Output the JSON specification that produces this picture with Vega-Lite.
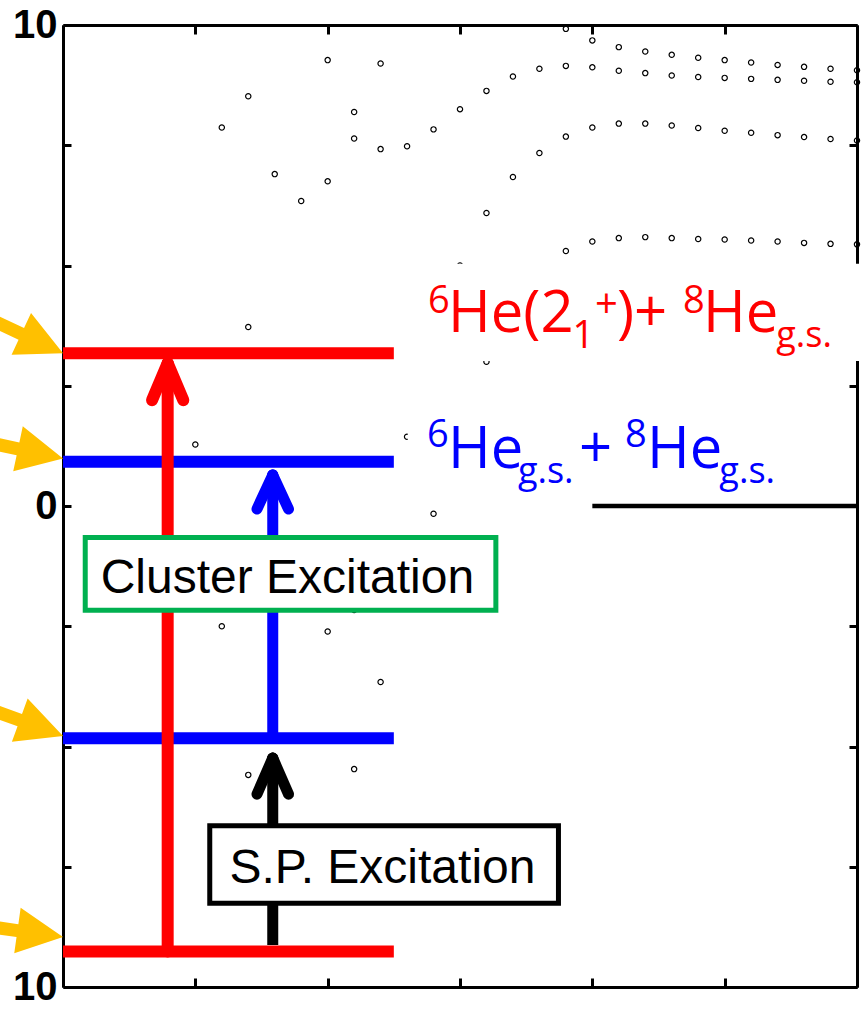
{
  "$schema": "https://vega.github.io/schema/vega-lite/v6.json",
  "width": 794,
  "height": 962,
  "autosize": {"type": "none"},
  "padding": {"left": 63, "top": 25, "right": 8, "bottom": 49},
  "background": "white",
  "config": {
    "view": {"stroke": null},
    "axis": {"domainColor": "black", "domainWidth": 3, "tickColor": "black", "tickWidth": 3, "grid": false, "title": null, "zindex": 0, "labelOverlap": false, "labelFlush": false}
  },
  "resolve": {"axis": {"x": "independent", "y": "independent"}},
  "datasets": {
    "one": [{}],
    "dots": [
      {"x": 1.2, "E": 7.87}, {"x": 1.4, "E": 8.52}, {"x": 1.6, "E": 6.9}, {"x": 1.8, "E": 6.34},
      {"x": 2.0, "E": 9.27}, {"x": 2.0, "E": 6.75}, {"x": 2.2, "E": 8.19}, {"x": 2.2, "E": 7.64},
      {"x": 2.4, "E": 9.2}, {"x": 2.4, "E": 7.42}, {"x": 2.6, "E": 7.48}, {"x": 2.8, "E": 7.83},
      {"x": 3.0, "E": 8.25}, {"x": 3.2, "E": 8.63}, {"x": 3.4, "E": 8.93}, {"x": 3.6, "E": 9.09},
      {"x": 3.8, "E": 9.15}, {"x": 4.0, "E": 9.12}, {"x": 4.2, "E": 9.05}, {"x": 4.4, "E": 9.0},
      {"x": 4.6, "E": 8.95}, {"x": 4.8, "E": 8.92}, {"x": 5.0, "E": 8.9}, {"x": 5.2, "E": 8.88},
      {"x": 5.4, "E": 8.86}, {"x": 5.6, "E": 8.84}, {"x": 5.8, "E": 8.82}, {"x": 6.0, "E": 8.81},
      {"x": 3.8, "E": 9.92}, {"x": 4.0, "E": 9.68}, {"x": 4.2, "E": 9.54}, {"x": 4.4, "E": 9.45},
      {"x": 4.6, "E": 9.38}, {"x": 4.8, "E": 9.32}, {"x": 5.0, "E": 9.27}, {"x": 5.2, "E": 9.22},
      {"x": 5.4, "E": 9.17}, {"x": 5.6, "E": 9.13}, {"x": 5.8, "E": 9.09}, {"x": 6.0, "E": 9.06},
      {"x": 3.2, "E": 6.09}, {"x": 3.4, "E": 6.84}, {"x": 3.6, "E": 7.34}, {"x": 3.8, "E": 7.68},
      {"x": 4.0, "E": 7.87}, {"x": 4.2, "E": 7.95}, {"x": 4.4, "E": 7.95}, {"x": 4.6, "E": 7.91},
      {"x": 4.8, "E": 7.86}, {"x": 5.0, "E": 7.8}, {"x": 5.2, "E": 7.76}, {"x": 5.4, "E": 7.71},
      {"x": 5.6, "E": 7.67}, {"x": 5.8, "E": 7.63}, {"x": 6.0, "E": 7.6},
      {"x": 3.8, "E": 5.3}, {"x": 4.0, "E": 5.5}, {"x": 4.2, "E": 5.57}, {"x": 4.4, "E": 5.59},
      {"x": 4.6, "E": 5.57}, {"x": 4.8, "E": 5.55}, {"x": 5.0, "E": 5.54}, {"x": 5.2, "E": 5.52},
      {"x": 5.4, "E": 5.5}, {"x": 5.6, "E": 5.47}, {"x": 5.8, "E": 5.45}, {"x": 6.0, "E": 5.44},
      {"x": 1.4, "E": 3.72}, {"x": 1.0, "E": 1.28}, {"x": 2.6, "E": 1.44}, {"x": 2.8, "E": -0.16},
      {"x": 3.2, "E": 3.0}, {"x": 3.0, "E": 5.0}, {"x": 1.2, "E": -2.5}, {"x": 2.0, "E": -2.61},
      {"x": 2.4, "E": -3.66}, {"x": 1.4, "E": -5.59}, {"x": 2.2, "E": -5.47}, {"x": 2.2, "E": -2.16}
    ]
  },
  "layer": [
    {
      "data": {"name": "dots"},
      "mark": {"type": "point", "filled": false, "size": 28, "strokeWidth": 1.2, "color": "black", "opacity": 1},
      "encoding": {
        "x": {"field": "x", "type": "quantitative", "scale": {"domain": [0, 6], "nice": false, "zero": false},
              "axis": {"orient": "bottom", "values": [0, 1, 2, 3, 4, 5, 6], "labels": false, "tickSize": -9}},
        "y": {"field": "E", "type": "quantitative", "scale": {"domain": [-10, 10], "nice": false, "zero": false},
              "axis": {"orient": "left", "values": [-10, -7.5, -5, -2.5, 0, 2.5, 5, 7.5, 10], "tickSize": -8,
                       "labelExpr": "datum.value == 0 ? '0' : (abs(datum.value) == 10 ? '10' : '')",
                       "labelFont": "Liberation Sans", "labelFontSize": 40, "labelFontWeight": "bold", "labelColor": "black", "labelPadding": 14}}
      }
    },
    {
      "data": {"name": "dots"},
      "mark": {"type": "point", "opacity": 0},
      "encoding": {
        "x": {"field": "x", "type": "quantitative", "axis": {"orient": "top", "values": [0, 1, 2, 3, 4, 5, 6], "labels": false, "tickSize": -9}},
        "y": {"field": "E", "type": "quantitative", "axis": {"orient": "right", "values": [-10, -7.5, -5, -2.5, 0, 2.5, 5, 7.5, 10], "labels": false, "tickSize": -8}}
      }
    },
    {"data": {"name": "one"}, "mark": {"type": "rect", "fill": "white", "stroke": null},
     "encoding": {"x": {"datum": 2.85, "axis": null}, "x2": {"datum": 6.03}, "y": {"datum": 5.035, "axis": null}, "y2": {"datum": 3.015}}},
    {"data": {"name": "one"}, "mark": {"type": "rect", "fill": "white", "stroke": null},
     "encoding": {"x": {"datum": 2.605, "axis": null}, "x2": {"datum": 5.5}, "y": {"datum": 1.9, "axis": null}, "y2": {"datum": 0.25}}},
    {"data": {"name": "one"}, "mark": {"type": "rule", "color": "black", "strokeWidth": 4.5},
     "encoding": {"x": {"datum": 4.0, "axis": null}, "x2": {"datum": 6.0}, "y": {"datum": 0, "axis": null}}},
    {"data": {"name": "one"}, "mark": {"type": "rule", "color": "#FF0000", "strokeWidth": 12, "strokeCap": "butt"},
     "encoding": {"x": {"datum": 0, "axis": null}, "x2": {"datum": 2.5}, "y": {"datum": 3.175, "axis": null}}},
    {"data": {"name": "one"}, "mark": {"type": "rule", "color": "#0000FF", "strokeWidth": 12, "strokeCap": "butt"},
     "encoding": {"x": {"datum": 0, "axis": null}, "x2": {"datum": 2.5}, "y": {"datum": 0.919, "axis": null}}},
    {"data": {"name": "one"}, "mark": {"type": "rule", "color": "#0000FF", "strokeWidth": 12, "strokeCap": "butt"},
     "encoding": {"x": {"datum": 0, "axis": null}, "x2": {"datum": 2.5}, "y": {"datum": -4.83, "axis": null}}},
    {"data": {"name": "one"}, "mark": {"type": "rule", "color": "#FF0000", "strokeWidth": 12, "strokeCap": "butt"},
     "encoding": {"x": {"datum": 0, "axis": null}, "x2": {"datum": 2.5}, "y": {"datum": -9.26, "axis": null}}},
    {"data": {"name": "one"}, "mark": {"type": "rule", "color": "#FF0000", "strokeWidth": 12, "strokeCap": "round"},
     "encoding": {"x": {"datum": 0.791, "axis": null}, "y": {"datum": -9.26, "axis": null}, "y2": {"datum": 2.97}}},
    {"data": {"name": "one"}, "mark": {"type": "rule", "color": "#FF0000", "strokeWidth": 12, "strokeCap": "round"},
     "encoding": {"x": {"datum": 0.673, "axis": null}, "x2": {"datum": 0.791}, "y": {"datum": 2.2, "axis": null}, "y2": {"datum": 2.97}}},
    {"data": {"name": "one"}, "mark": {"type": "rule", "color": "#FF0000", "strokeWidth": 12, "strokeCap": "round"},
     "encoding": {"x": {"datum": 0.909, "axis": null}, "x2": {"datum": 0.791}, "y": {"datum": 2.2, "axis": null}, "y2": {"datum": 2.97}}},
    {"data": {"name": "one"}, "mark": {"type": "rule", "color": "#0000FF", "strokeWidth": 11, "strokeCap": "round"},
     "encoding": {"x": {"datum": 1.585, "axis": null}, "y": {"datum": -4.83, "axis": null}, "y2": {"datum": 0.645}}},
    {"data": {"name": "one"}, "mark": {"type": "rule", "color": "#0000FF", "strokeWidth": 11, "strokeCap": "round"},
     "encoding": {"x": {"datum": 1.466, "axis": null}, "x2": {"datum": 1.585}, "y": {"datum": -0.062, "axis": null}, "y2": {"datum": 0.645}}},
    {"data": {"name": "one"}, "mark": {"type": "rule", "color": "#0000FF", "strokeWidth": 11, "strokeCap": "round"},
     "encoding": {"x": {"datum": 1.704, "axis": null}, "x2": {"datum": 1.585}, "y": {"datum": -0.062, "axis": null}, "y2": {"datum": 0.645}}},
    {"data": {"name": "one"}, "mark": {"type": "rule", "color": "black", "strokeWidth": 11, "strokeCap": "butt"},
     "encoding": {"x": {"datum": 1.585, "axis": null}, "y": {"datum": -9.127, "axis": null}, "y2": {"datum": -5.3}}},
    {"data": {"name": "one"}, "mark": {"type": "rule", "color": "black", "strokeWidth": 11, "strokeCap": "round"},
     "encoding": {"x": {"datum": 1.585, "axis": null}, "y": {"datum": -5.6, "axis": null}, "y2": {"datum": -5.24}}},
    {"data": {"name": "one"}, "mark": {"type": "rule", "color": "black", "strokeWidth": 11, "strokeCap": "round"},
     "encoding": {"x": {"datum": 1.466, "axis": null}, "x2": {"datum": 1.585}, "y": {"datum": -5.99, "axis": null}, "y2": {"datum": -5.24}}},
    {"data": {"name": "one"}, "mark": {"type": "rule", "color": "black", "strokeWidth": 11, "strokeCap": "round"},
     "encoding": {"x": {"datum": 1.704, "axis": null}, "x2": {"datum": 1.585}, "y": {"datum": -5.99, "axis": null}, "y2": {"datum": -5.24}}},
    {"data": {"name": "one"}, "mark": {"type": "rect", "fill": "white", "stroke": "#00B050", "strokeWidth": 5},
     "encoding": {"x": {"datum": 0.168, "axis": null}, "x2": {"datum": 3.271}, "y": {"datum": -0.655, "axis": null}, "y2": {"datum": -2.166}}},
    {"data": {"name": "one"}, "mark": {"type": "rect", "fill": "white", "stroke": "black", "strokeWidth": 5},
     "encoding": {"x": {"datum": 1.109, "axis": null}, "x2": {"datum": 3.744}, "y": {"datum": -6.649, "axis": null}, "y2": {"datum": -8.258}}},
    {"data": {"name": "one"}, "mark": {"type": "text", "text": "Cluster Excitation", "font": "Liberation Sans", "fontSize": 48, "color": "black", "align": "center", "baseline": "alphabetic"},
     "encoding": {"x": {"datum": 1.696, "axis": null}, "y": {"datum": -1.8, "axis": null}}},
    {"data": {"name": "one"}, "mark": {"type": "text", "text": "S.P. Excitation", "font": "Liberation Sans", "fontSize": 48, "color": "black", "align": "center", "baseline": "alphabetic"},
     "encoding": {"x": {"datum": 2.414, "axis": null}, "y": {"datum": -7.844, "axis": null}}},
    {"data": {"name": "one"}, "mark": {"type": "text", "text": "6", "font": "Open Sans", "fontSize": 38, "color": "#FF0000", "align": "left", "baseline": "alphabetic"},
     "encoding": {"x": {"datum": 2.758, "axis": null}, "y": {"datum": 4.012, "axis": null}}},
    {"data": {"name": "one"}, "mark": {"type": "text", "text": "He(2", "font": "Open Sans", "fontSize": 58, "color": "#FF0000", "align": "left", "baseline": "alphabetic"},
     "encoding": {"x": {"datum": 2.909, "axis": null}, "y": {"datum": 3.617, "axis": null}}},
    {"data": {"name": "one"}, "mark": {"type": "text", "text": "1", "font": "Open Sans", "fontSize": 38, "color": "#FF0000", "align": "left", "baseline": "alphabetic"},
     "encoding": {"x": {"datum": 3.85, "axis": null}, "y": {"datum": 3.285, "axis": null}}},
    {"data": {"name": "one"}, "mark": {"type": "text", "text": "+", "font": "Open Sans", "fontSize": 40, "color": "#FF0000", "align": "left", "baseline": "alphabetic"},
     "encoding": {"x": {"datum": 4.02, "axis": null}, "y": {"datum": 3.91, "axis": null}}},
    {"data": {"name": "one"}, "mark": {"type": "text", "text": ")+", "font": "Open Sans", "fontSize": 58, "color": "#FF0000", "align": "left", "baseline": "alphabetic"},
     "encoding": {"x": {"datum": 4.186, "axis": null}, "y": {"datum": 3.617, "axis": null}}},
    {"data": {"name": "one"}, "mark": {"type": "text", "text": "8", "font": "Open Sans", "fontSize": 38, "color": "#FF0000", "align": "left", "baseline": "alphabetic"},
     "encoding": {"x": {"datum": 4.685, "axis": null}, "y": {"datum": 4.012, "axis": null}}},
    {"data": {"name": "one"}, "mark": {"type": "text", "text": "He", "font": "Open Sans", "fontSize": 58, "color": "#FF0000", "align": "left", "baseline": "alphabetic"},
     "encoding": {"x": {"datum": 4.836, "axis": null}, "y": {"datum": 3.617, "axis": null}}},
    {"data": {"name": "one"}, "mark": {"type": "text", "text": "g.s.", "font": "Open Sans", "fontSize": 36, "color": "#FF0000", "align": "left", "baseline": "alphabetic"},
     "encoding": {"x": {"datum": 5.39, "axis": null}, "y": {"datum": 3.306, "axis": null}}},
    {"data": {"name": "one"}, "mark": {"type": "text", "text": "6", "font": "Open Sans", "fontSize": 38, "color": "#0000FF", "align": "left", "baseline": "alphabetic"},
     "encoding": {"x": {"datum": 2.751, "axis": null}, "y": {"datum": 1.227, "axis": null}}},
    {"data": {"name": "one"}, "mark": {"type": "text", "text": "He", "font": "Open Sans", "fontSize": 58, "color": "#0000FF", "align": "left", "baseline": "alphabetic"},
     "encoding": {"x": {"datum": 2.909, "axis": null}, "y": {"datum": 0.79, "axis": null}}},
    {"data": {"name": "one"}, "mark": {"type": "text", "text": "g.s.", "font": "Open Sans", "fontSize": 36, "color": "#0000FF", "align": "left", "baseline": "alphabetic"},
     "encoding": {"x": {"datum": 3.438, "axis": null}, "y": {"datum": 0.478, "axis": null}}},
    {"data": {"name": "one"}, "mark": {"type": "text", "text": "+", "font": "Open Sans", "fontSize": 58, "color": "#0000FF", "align": "left", "baseline": "alphabetic"},
     "encoding": {"x": {"datum": 3.899, "axis": null}, "y": {"datum": 0.79, "axis": null}}},
    {"data": {"name": "one"}, "mark": {"type": "text", "text": "8", "font": "Open Sans", "fontSize": 38, "color": "#0000FF", "align": "left", "baseline": "alphabetic"},
     "encoding": {"x": {"datum": 4.247, "axis": null}, "y": {"datum": 1.227, "axis": null}}},
    {"data": {"name": "one"}, "mark": {"type": "text", "text": "He", "font": "Open Sans", "fontSize": 58, "color": "#0000FF", "align": "left", "baseline": "alphabetic"},
     "encoding": {"x": {"datum": 4.413, "axis": null}, "y": {"datum": 0.79, "axis": null}}},
    {"data": {"name": "one"}, "mark": {"type": "text", "text": "g.s.", "font": "Open Sans", "fontSize": 36, "color": "#0000FF", "align": "left", "baseline": "alphabetic"},
     "encoding": {"x": {"datum": 4.96, "axis": null}, "y": {"datum": 0.478, "axis": null}}},
    {"data": {"name": "one"}, "mark": {"type": "point", "shape": "M0,0L-0.92,-0.46L-0.92,-0.13L-2.6,-0.13L-2.6,0.13L-0.92,0.13L-0.92,0.46Z", "size": 10000, "filled": true, "color": "#FFC000", "opacity": 1, "strokeWidth": 0, "angle": 25},
     "encoding": {"x": {"datum": 0, "axis": null}, "y": {"datum": 3.175, "axis": null}}},
    {"data": {"name": "one"}, "mark": {"type": "point", "shape": "M0,0L-0.92,-0.46L-0.92,-0.13L-2.6,-0.13L-2.6,0.13L-0.92,0.13L-0.92,0.46Z", "size": 10000, "filled": true, "color": "#FFC000", "opacity": 1, "strokeWidth": 0, "angle": 12},
     "encoding": {"x": {"datum": 0, "axis": null}, "y": {"datum": 0.99, "axis": null}}},
    {"data": {"name": "one"}, "mark": {"type": "point", "shape": "M0,0L-0.92,-0.46L-0.92,-0.13L-2.6,-0.13L-2.6,0.13L-0.92,0.13L-0.92,0.46Z", "size": 10000, "filled": true, "color": "#FFC000", "opacity": 1, "strokeWidth": 0, "angle": 20},
     "encoding": {"x": {"datum": 0, "axis": null}, "y": {"datum": -4.78, "axis": null}}},
    {"data": {"name": "one"}, "mark": {"type": "point", "shape": "M0,0L-0.92,-0.46L-0.92,-0.13L-2.6,-0.13L-2.6,0.13L-0.92,0.13L-0.92,0.46Z", "size": 10000, "filled": true, "color": "#FFC000", "opacity": 1, "strokeWidth": 0, "angle": 8},
     "encoding": {"x": {"datum": 0, "axis": null}, "y": {"datum": -8.96, "axis": null}}}
  ]
}
